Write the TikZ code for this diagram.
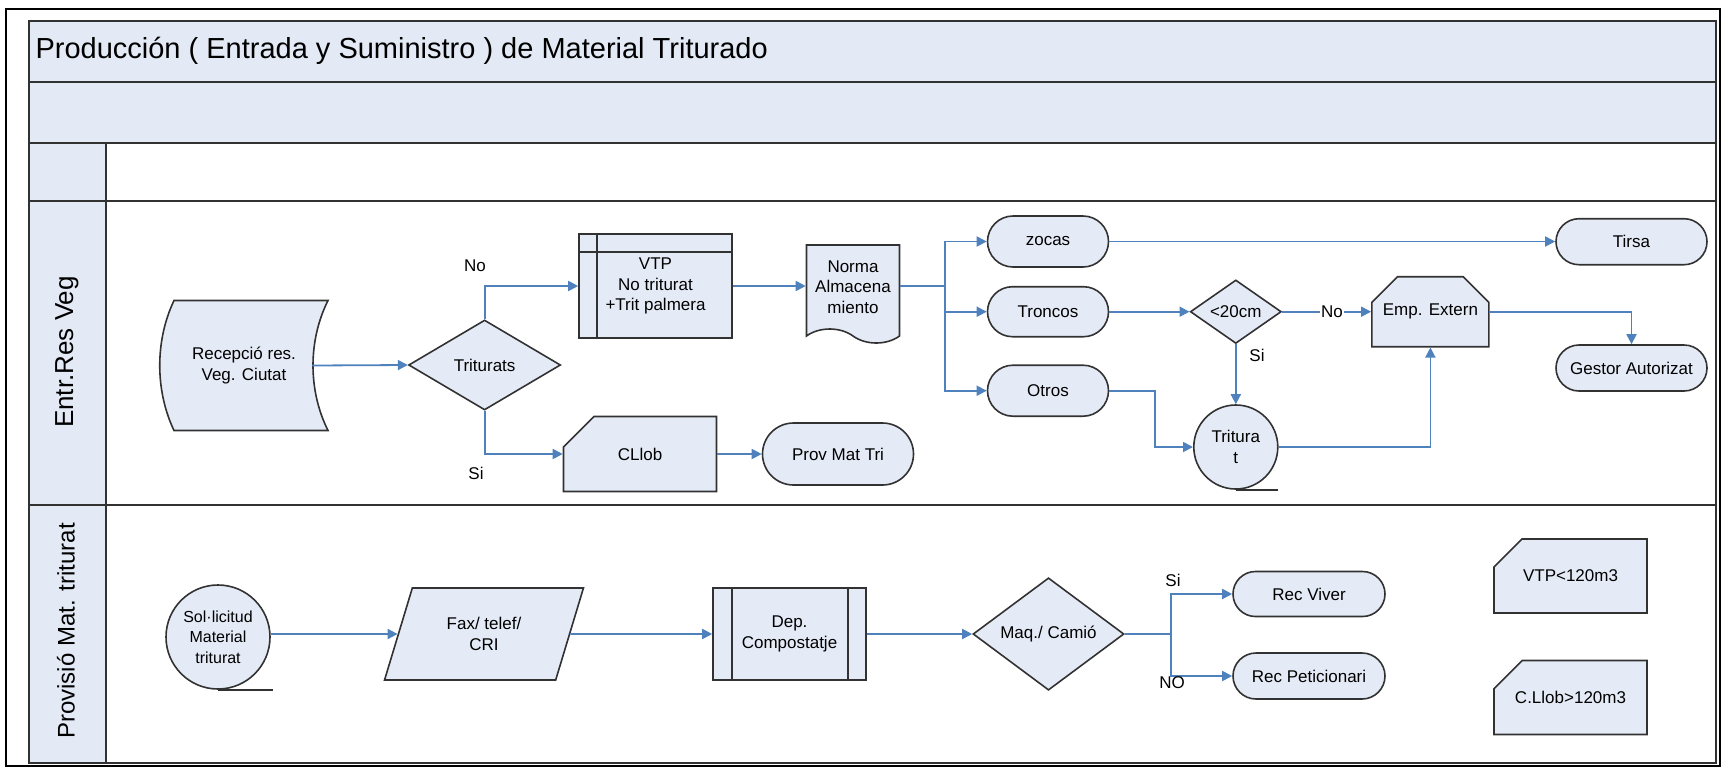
\documentclass[tikz,border=0pt]{standalone}
\usepackage{fontspec}
\setmainfont{Liberation Sans}
\usepackage{tikz}
\usetikzlibrary{arrows.meta,shapes.geometric,shapes.misc,shapes.symbols,calc}
\definecolor{lanefill}{RGB}{228,234,245}
\definecolor{boxfill}{RGB}{229,235,246}
\definecolor{boxline}{RGB}{50,50,50}
\definecolor{flowblue}{RGB}{79,129,189}

\begin{document}
\begin{tikzpicture}[x=1pt, y=-1pt, font=\fontsize{17}{20.5}\selectfont]
	\tikzstyle{box}=[draw=boxline, fill=boxfill, line width=1.6pt, align=center, inner sep=1pt]
	\tikzstyle{term}=[box, rounded rectangle, minimum width=153pt, minimum height=46pt]
	\tikzstyle{decide}=[box, diamond, inner sep=0pt]
	\tikzstyle{cutbox}=[box, chamfered rectangle, chamfered rectangle corners=north west,
		chamfered rectangle xsep=20pt, chamfered rectangle ysep=21pt, minimum width=153pt, minimum height=74pt]
	\tikzstyle{tapecirc}=[box, circle, inner sep=0pt]
	\tikzstyle{store}=[box, rectangle, minimum width=153pt, minimum height=104pt,
		path picture={\draw[boxline, line width=1.6pt]
			([xshift=18pt]path picture bounding box.north west) -- ([xshift=18pt]path picture bounding box.south west)
			([yshift=-18pt]path picture bounding box.north west) -- ([yshift=-18pt]path picture bounding box.north east);}]
	\tikzstyle{predef}=[box, rectangle, minimum width=153pt, minimum height=92pt,
		path picture={\draw[boxline, line width=1.6pt]
			([xshift=19pt]path picture bounding box.north west) -- ([xshift=19pt]path picture bounding box.south west)
			([xshift=-18pt]path picture bounding box.north east) -- ([xshift=-18pt]path picture bounding box.south east);}]
	\tikzstyle{storedata}=[align=center, inner sep=0pt, minimum width=172pt, minimum height=134pt,
		path picture={
			\coordinate (nw) at (path picture bounding box.north west);
			\coordinate (se) at (path picture bounding box.south east);
			\filldraw[draw=boxline, fill=boxfill, line width=1.6pt]
				($(nw)+(16,2)$) -- ($(se|-nw)+(-2,2)$)
				.. controls ($(se|-nw)+(-22,42)$) and ($(se)+(-22,-42)$) .. ($(se)+(-2,-2)$)
				-- ($(nw|-se)+(16,-2)$)
				.. controls ($(nw|-se)+(-3,-42)$) and ($(nw)+(-3,42)$) .. cycle;}]
	\tikzstyle{flow}=[draw=flowblue, line width=1.8pt, -{Triangle[length=10pt,width=10pt]}]
	\tikzstyle{link}=[draw=flowblue, line width=1.8pt]
	\tikzstyle{lane}=[draw=boxline, line width=1.4pt]
	\tikzstyle{tag}=[inner sep=1pt]

	\useasboundingbox (0,0) rectangle (1721,769);

	% pool and lanes
	\fill[lanefill] (29,21) rectangle (1716,143);
	\fill[lanefill] (29,143) rectangle (106,763);
	\draw[lane] (29,21) rectangle (1716,763);
	\draw[lane] (29,82) -- (1716,82);
	\draw[lane] (29,143) -- (1716,143);
	\draw[lane] (29,201) -- (1716,201);
	\draw[lane] (29,505) -- (1716,505);
	\draw[lane] (106,143) -- (106,763);
	\draw[black, line width=2pt] (6,9) rectangle (1720,766);

	\node[anchor=west, font=\fontsize{29}{33}\selectfont] (title) at (32,51)
		{Producción ( Entrada y Suministro ) de Material Triturado};
	\node[rotate=90, font=\fontsize{26}{30}\selectfont] (laneres) at (67,352) {Entr.Res Veg};
	\node[rotate=90, font=\fontsize{24}{28}\selectfont] (laneprov) at (66,631) {Provisió Mat. triturat};

	% Entr.Res Veg
	\node[storedata] (rec) at (244,365.5) {Recepció res.\\Veg. Ciutat};
	\node[decide, minimum width=152pt, minimum height=90pt] (tri) at (484.6,365) {Triturats};
	\node[store] (vtp) at (655.5,286) {VTP\\No triturat\\+Trit palmera};
	\node[box, tape, tape bend top=none, tape bend bottom=out and in, tape bend height=14pt,
		minimum width=93pt, minimum height=98pt] (nor) at (853,287) {Norma\\Almacena\\miento};
	\node[cutbox, chamfered rectangle xsep=30pt, chamfered rectangle ysep=28pt,
		minimum height=75pt] (clb) at (640,454) {CLlob};
	\node[term, minimum height=62pt] (pmt) at (838,454) {Prov Mat Tri};
	\node[term, minimum width=123pt, minimum height=51pt] (zoc) at (1048,241.5) {zocas};
	\node[term, minimum width=123pt, minimum height=50pt] (tro) at (1048,311.7) {Troncos};
	\node[term, minimum width=123pt, minimum height=51pt] (otr) at (1048,390.7) {Otros};
	\node[decide, minimum width=91pt, minimum height=53pt] (l20) at (1235.8,311.7) {<20cm};
	\node[tapecirc, minimum size=84pt] (trt) at (1235.8,447) {Tritura\\t};
	\node[box, chamfered rectangle, chamfered rectangle corners={north west,north east},
		chamfered rectangle xsep=18pt, chamfered rectangle ysep=17pt,
		minimum width=117pt, minimum height=70pt] (emp) at (1430.4,311.7) {Emp. Extern};
	\node[term] (tir) at (1631.5,241.7) {Tirsa};
	\node[term] (ges) at (1631.5,368) {Gestor Autorizat};

	\draw[boxline, line width=1.6pt] (trt.south) -- ++(42,0);

	\draw[flow] ([xshift=-18pt]rec.east) -- (tri.west);
	\draw[flow] (tri.north) |- (vtp.west);
	\draw[flow] (tri.south) |- (clb.west);
	\draw[flow] (vtp.east) -- (vtp.east -| nor.west);
	\coordinate (fork) at ($(vtp.east -| nor.east)+(45,0)$);
	\draw[link] (vtp.east -| nor.east) -- (fork);
	\draw[flow] (fork) |- (zoc.west);
	\draw[flow] (fork) |- (tro.west);
	\draw[flow] (fork) |- (otr.west);
	\draw[flow] (clb.east) -- (pmt.west);
	\draw[flow] (zoc.east) -- (zoc.east -| tir.west);
	\draw[flow] (tro.east) -- (l20.west);
	\draw[flow] (l20.east) -- (emp.west);
	\draw[flow] (l20.south) -- (trt.north);
	\draw[flow] (otr.east) -- ++(46,0) |- (trt.west);
	\draw[flow] (trt.east) -| (emp.south);
	\draw[flow] (emp.east) -| (ges.north);

	\node[tag] (notri) at (475,266) {No};
	\node[tag] (sitri) at (476,473) {Si};
	\node[tag, fill=white] (nol20) at (1332,312) {No};
	\node[tag] (sil20) at (1257,355) {Si};

	% Provisio Mat. triturat
	\node[tapecirc, minimum size=104pt, font=\fontsize{16}{20.5}\selectfont] (sol) at (218,637)
		{Sol·licitud\\Material\\triturat};
	\node[box, trapezium, trapezium left angle=67, trapezium right angle=113, trapezium stretches=true,
		minimum width=199pt, minimum height=92pt] (fax) at (484,634) {Fax/ telef/\\CRI};
	\node[predef] (dep) at (789.5,634) {Dep.\\Compostatje};
	\node[decide, minimum width=151pt, minimum height=91pt] (maq) at (1048.5,634) {Maq./ Camió};
	\node[term, minimum width=154pt, minimum height=45pt] (rv) at (1309,594) {Rec Viver};
	\node[term, minimum width=154pt, minimum height=46pt] (rp) at (1309,676) {Rec Peticionari};
	\node[cutbox] (vtpmax) at (1570.5,576) {VTP<120m3};
	\node[cutbox] (cllmax) at (1570.5,697.5) {C.Llob>120m3};

	\draw[boxline, line width=1.6pt] (sol.south) -- ++(55,0);

	\draw[flow] (sol.east |- fax.west) -- (fax.west);
	\draw[flow] (fax.east) -- (dep.west);
	\draw[flow] (dep.east) -- (maq.west);
	\coordinate (split) at ($(maq.east)+(46,0)$);
	\draw[link] (maq.east) -- (split);
	\draw[flow] (split) |- (rv.west);
	\draw[flow] (split) |- (rp.west);

	\node[tag] (simaq) at (1173,580) {Si};
	\node[tag] (nomaq) at (1172,683) {NO};
\end{tikzpicture}
\end{document}
